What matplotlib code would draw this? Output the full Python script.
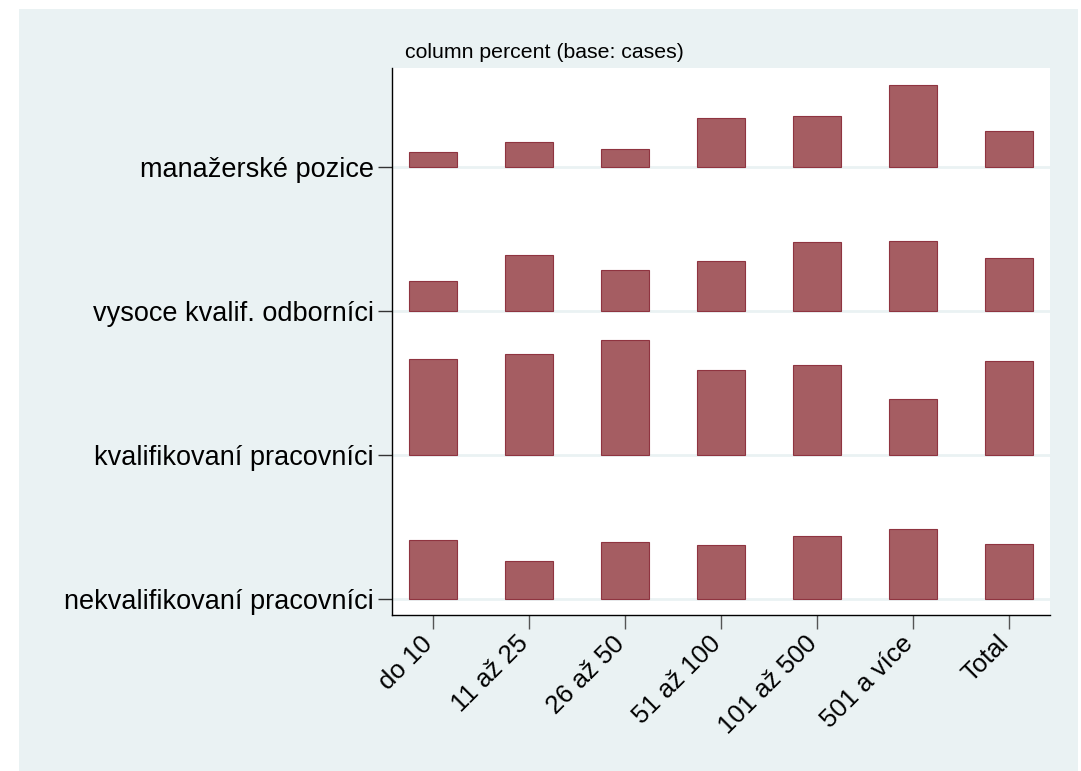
import matplotlib.pyplot as plt
from matplotlib.patches import Rectangle
import matplotlib.transforms as mtransforms
import numpy as np

plt.rcParams['font.family'] = ['Liberation Sans', 'DejaVu Sans']

columns = ['do 10', '11 až 25', '26 až 50', '51 až 100', '101 až 500', '501 a více', 'Total']
rows = ['nekvalifikovaní pracovníci', 'kvalifikovaní pracovníci',
        'vysoce kvalif. odborníci', 'manažerské pozice']

# column percent
nekval = [29.4, 19.0, 28.5, 27.0, 31.4, 35.0, 27.7]
kval = [47.9, 50.5, 57.7, 42.7, 44.9, 28.2, 47.2]
vysoce = [15.2, 27.9, 20.7, 24.9, 34.4, 34.9, 26.4]
manazer = [7.7, 12.5, 9.2, 24.5, 25.5, 41.2, 17.9]

values = [nekval, kval, vysoce, manazer]
vmax = max(max(v) for v in values)

bg = '#EAF2F3'
bar_face = '#A55D62'
bar_edge = '#8F3440'

fig = plt.figure(figsize=(10.81, 7.71), dpi=100)
fig.patch.set_facecolor('white')
fig.patches.append(Rectangle((19 / 1081, 0), 1059 / 1081, 1 - 9 / 771,
                             transform=fig.transFigure, facecolor=bg,
                             edgecolor='none', zorder=-10))

ax = fig.add_axes([392 / 1081, 1 - 615 / 771, 658 / 1081, 547 / 771])
ax.set_facecolor('white')

x = np.arange(len(columns))
for r, vals in enumerate(values):
    h = np.array(vals) / vmax * 0.8
    ax.bar(x, h, bottom=r, width=0.51, color=bar_face, edgecolor=bar_edge,
           linewidth=0.8, zorder=3)

ax.set_xlim(-0.427, 6.427)
ax.set_ylim(-0.111, 3.6875)

ax.set_yticks(range(len(rows)))
ax.set_yticklabels(rows, fontsize=19.5)
ax.set_xticks(x)
ax.set_xticklabels(columns, fontsize=18.5, rotation=45, ha='right',
                   va='center', rotation_mode='anchor')
ax.tick_params(axis='y', length=10, width=1, pad=3, color='#333333')
ax.tick_params(axis='x', length=10, width=1, pad=8, color='#555555')

# nudge rotated labels slightly left so they end at the tick
offset = mtransforms.ScaledTranslation(-4 / 100, 0, fig.dpi_scale_trans)
for lab in ax.get_xticklabels():
    lab.set_transform(lab.get_transform() + offset)

ax.grid(axis='y', color=bg, linewidth=2, zorder=1)
ax.set_axisbelow(True)

for s in ['top', 'right']:
    ax.spines[s].set_visible(False)
ax.spines['left'].set_linewidth(1)
ax.spines['bottom'].set_linewidth(1)

fig.text(405 / 1081, 1 - 52 / 771, 'column percent (base: cases)',
         fontsize=15.3, ha='left', va='center')

fig.savefig('out.png', dpi=100)
